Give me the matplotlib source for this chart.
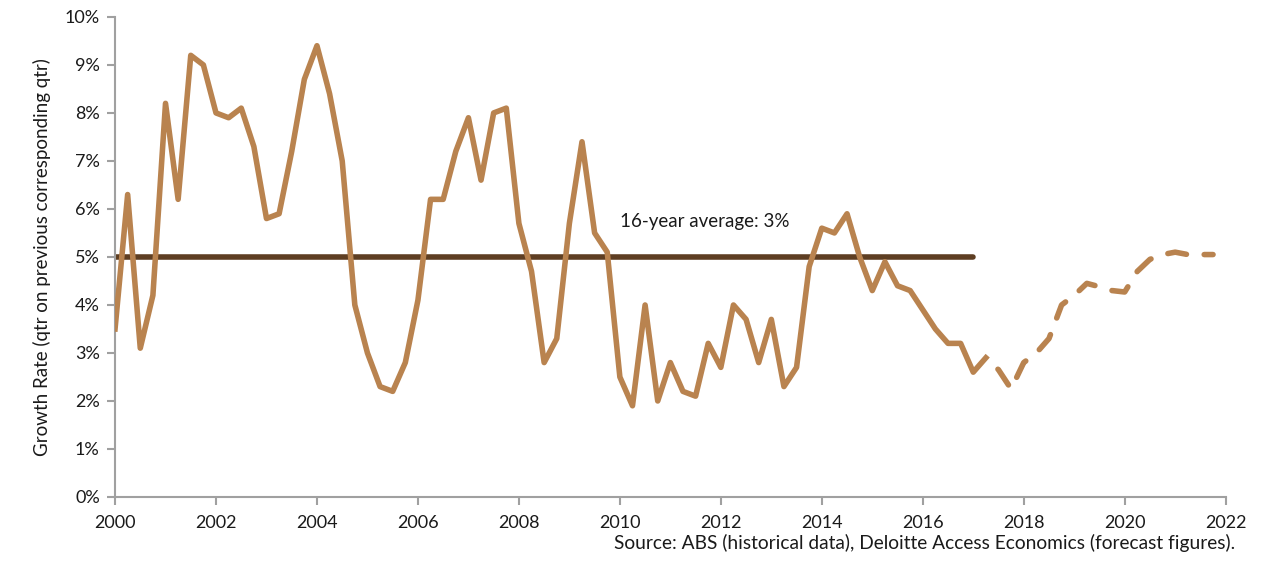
import matplotlib.pyplot as plt
from matplotlib.ticker import FuncFormatter

plt.rcParams['font.family'] = ['Lato', 'DejaVu Sans']

# quarterly growth, historical (ABS), 2000 Q1 .. 2017 Q2
hist_start = 2000.0
hist_growth = [3.5, 6.3, 3.1, 4.2, 8.2, 6.2, 9.2, 9.0,
               8.0, 7.9, 8.1, 7.3, 5.8, 5.9, 7.2, 8.7,
               9.4, 8.4, 7.0, 4.0, 3.0, 2.3, 2.2, 2.8,
               4.1, 6.2, 6.2, 7.2, 7.9, 6.6, 8.0, 8.1,
               5.7, 4.7, 2.8, 3.3, 5.7, 7.4, 5.5, 5.1,
               2.5, 1.9, 4.0, 2.0, 2.8, 2.2, 2.1, 3.2,
               2.7, 4.0, 3.7, 2.8, 3.7, 2.3, 2.7, 4.8,
               5.6, 5.5, 5.9, 5.0, 4.3, 4.9, 4.4, 4.3,
               3.9, 3.5, 3.2, 3.2, 2.6, 2.9]

# forecast (Deloitte Access Economics), 2017 Q2 .. 2021 Q4
fc_start = 2017.25
fc_growth = [2.9, 2.65, 2.25, 2.8, 3.0, 3.3, 4.0, 4.2,
             4.45, 4.38, 4.3, 4.27, 4.7, 4.95, 5.05, 5.1,
             5.05, 5.05, 5.05]

avg_years = [2000, 2017]
avg_level = [5.0, 5.0]

hist_x = [hist_start + i * 0.25 for i in range(len(hist_growth))]
fc_x = [fc_start + i * 0.25 for i in range(len(fc_growth))]

tan = '#b9834f'
dark = '#5e3e22'
grey = '#a0a0a0'

fig = plt.figure(figsize=(12.81, 5.64), dpi=100)
ax = fig.add_axes([0.0898, 0.1188, 0.867, 0.8512])

ax.plot(avg_years, avg_level, color=dark, linewidth=4, solid_capstyle='round', zorder=2)
ax.plot(hist_x, hist_growth, color=tan, linewidth=4,
        solid_joinstyle='round', zorder=3)
# forecast: dashed, starting with a gap after the last actual quarter
ax.plot(fc_x, fc_growth, color=tan, linewidth=4, linestyle=(3.6, (3.4, 3.2)),
        dash_capstyle='round', dash_joinstyle='round', zorder=3)

ax.text(2010.0, 5.73, '16-year average: 3%', fontsize=13.5, color='#1a1a1a',
        va='center', ha='left')

ax.set_xlim(2000, 2022)
ax.set_ylim(0, 10)
ax.set_xticks(range(2000, 2023, 2))
ax.set_yticks(range(0, 11))
ax.yaxis.set_major_formatter(FuncFormatter(lambda v, p: '%d%%' % v))

for s in ['top', 'right']:
    ax.spines[s].set_visible(False)
for s in ['left', 'bottom']:
    ax.spines[s].set_color(grey)
    ax.spines[s].set_linewidth(1.5)
ax.tick_params(axis='both', colors=grey, length=6, width=1.5, labelsize=13,
               labelcolor='#1a1a1a', direction='out')
ax.tick_params(axis='x', pad=7)
ax.tick_params(axis='y', pad=5)

ax.set_ylabel('Growth Rate (qtr on previous corresponding qtr)', fontsize=13.5,
              color='#1a1a1a', labelpad=10)

fig.text(0.964, 0.021, 'Source: ABS (historical data), Deloitte Access Economics (forecast figures).',
         ha='right', va='bottom', fontsize=13.8, color='#1a1a1a')

fig.savefig('out.png', dpi=100)
